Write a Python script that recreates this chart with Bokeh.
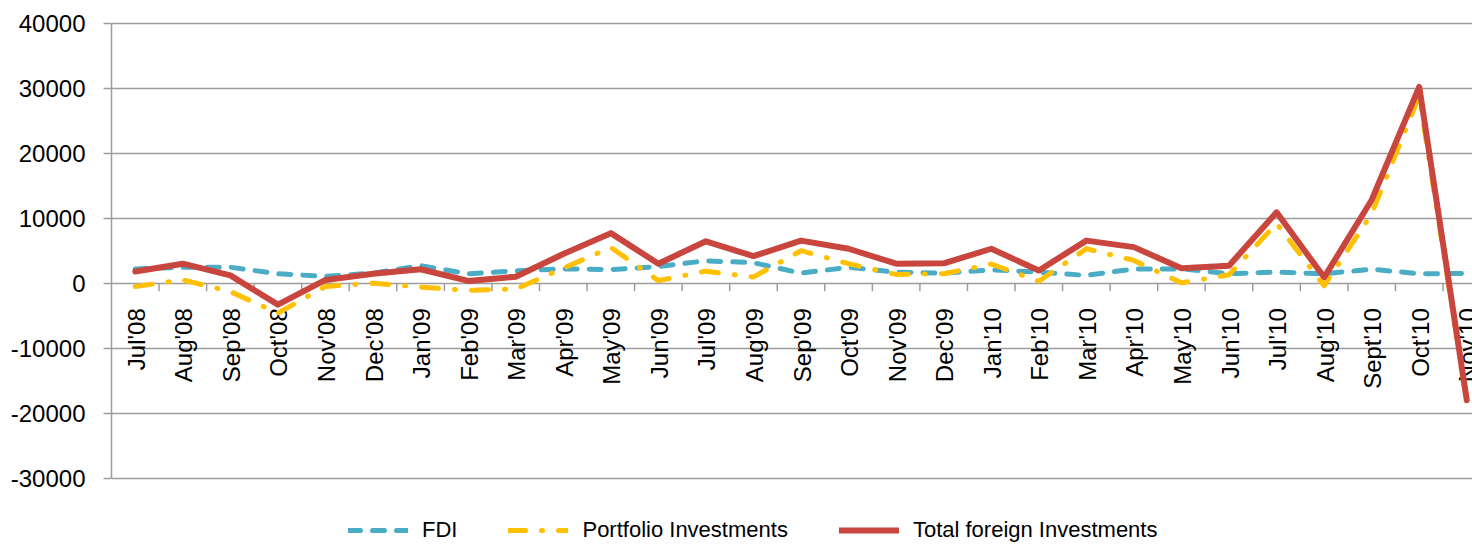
import math
from bokeh.plotting import figure
from bokeh.models import (Range1d, FixedTicker, NumeralTickFormatter, Legend, LegendItem)
from bokeh.core.properties import value
from bokeh.embed import file_html
from bokeh.resources import INLINE

months = ["Jul'08", "Aug'08", "Sep'08", "Oct'08", "Nov'08", "Dec'08", "Jan'09", "Feb'09",
          "Mar'09", "Apr'09", "May'09", "Jun'09", "Jul'09", "Aug'09", "Sep'09", "Oct'09",
          "Nov'09", "Dec'09", "Jan'10", "Feb'10", "Mar'10", "Apr'10", "May'10", "Jun'10",
          "Jul'10", "Aug'10", "Sept'10", "Oct'10", "Nov'10"]

fdi = [2200, 2450, 2450, 1450, 1050, 1550, 2700, 1450,
       1900, 2200, 2100, 2550, 3450, 3150, 1550, 2450,
       1700, 1550, 2050, 1700, 1200, 2200, 2200, 1450,
       1700, 1450, 2150, 1450, 1500]

portfolio = [-500, 500, -1300, -4600, -500, 0, -600, -1100,
             -900, 2300, 5500, 400, 1850, 950, 5000, 3000,
             1350, 1450, 2950, 300, 5300, 3500, 50, 1300,
             9200, -400, 10700, 28800, -18300]

total = [1800, 3000, 1200, -3300, 500, 1450, 2150, 350,
         1000, 4500, 7700, 3000, 6450, 4150, 6550, 5300,
         3000, 3050, 5300, 1950, 6550, 5550, 2300, 2700,
         10900, 900, 12800, 30200, -18000]

y_ticks = [-30000, -20000, -10000, 0, 10000, 20000, 30000, 40000]

FONT = "Liberation Sans"
GRID = "#9d9d9d"

idx = list(range(len(months)))

W, H = 1472, 544
TOP, LEFT = 21, 111
Y0, Y1 = -40200, 40260

p = figure(width=W, height=H, output_backend="svg", toolbar_location=None,
           x_axis_location=None,
           x_range=Range1d(-0.5, 28.12), y_range=Range1d(Y0, Y1),
           min_border_left=LEFT, min_border_right=0, min_border_top=TOP, min_border_bottom=0)
p.outline_line_color = None
p.background_fill_color = "white"
p.border_fill_color = "white"

p.xgrid.visible = False

p.yaxis.ticker = FixedTicker(ticks=y_ticks)
p.yaxis.formatter = NumeralTickFormatter(format="0")
p.yaxis.bounds = (y_ticks[0], y_ticks[-1])
p.yaxis.axis_line_color = GRID
p.yaxis.axis_line_width = 1.5
p.yaxis.major_tick_line_color = GRID
p.yaxis.major_tick_line_width = 1.5
p.yaxis.major_tick_out = 8
p.yaxis.major_tick_in = 0
p.yaxis.minor_tick_line_color = None
p.yaxis.major_label_standoff = 18
p.yaxis.major_label_text_font = FONT
p.yaxis.major_label_text_font_size = "24px"
p.yaxis.major_label_text_color = "#000000"

p.ygrid.ticker = FixedTicker(ticks=y_ticks)
p.ygrid.grid_line_color = GRID
p.ygrid.grid_line_width = 1.5

# category tick marks on the zero line (at category boundaries)
frame_h = H - TOP
tick_len = 8 * (Y1 - Y0) / frame_h
bounds_x = [i + 0.5 for i in idx]
p.segment(x0=bounds_x, y0=[0] * len(bounds_x), x1=bounds_x, y1=[-tick_len] * len(bounds_x),
          line_color=GRID, line_width=1.5)

# category labels hanging below the zero line
p.text(x=idx, y=[0] * len(idx), text=months, angle=math.pi / 2,
       text_align="right", text_baseline="middle", y_offset=25, x_offset=1,
       text_font=value(FONT), text_font_size="24px", text_color="#000000")

r_fdi = p.line(idx, fdi, line_color="#4BACC6", line_width=5, line_dash="12 12",
               line_cap="round", line_join="round")
r_port = p.line(idx, portfolio, line_color="#FFC000", line_width=5, line_dash="17 16 1 16",
                line_cap="round", line_join="round")
r_tot = p.line(idx, total, line_color="#C8463E", line_width=6,
               line_cap="round", line_join="round")

legend = Legend(items=[LegendItem(label="FDI", renderers=[r_fdi]),
                       LegendItem(label="Portfolio Investments", renderers=[r_port]),
                       LegendItem(label="Total foreign Investments", renderers=[r_tot])],
                location=(237, 1), orientation="horizontal",
                glyph_width=60, glyph_height=20, label_standoff=14, spacing=51,
                padding=0, margin=0, border_line_color=None, background_fill_alpha=0,
                label_text_font=FONT, label_text_font_size="22px", label_text_color="#000000")
p.add_layout(legend)

open("out.html", "w").write(file_html(p, INLINE))
